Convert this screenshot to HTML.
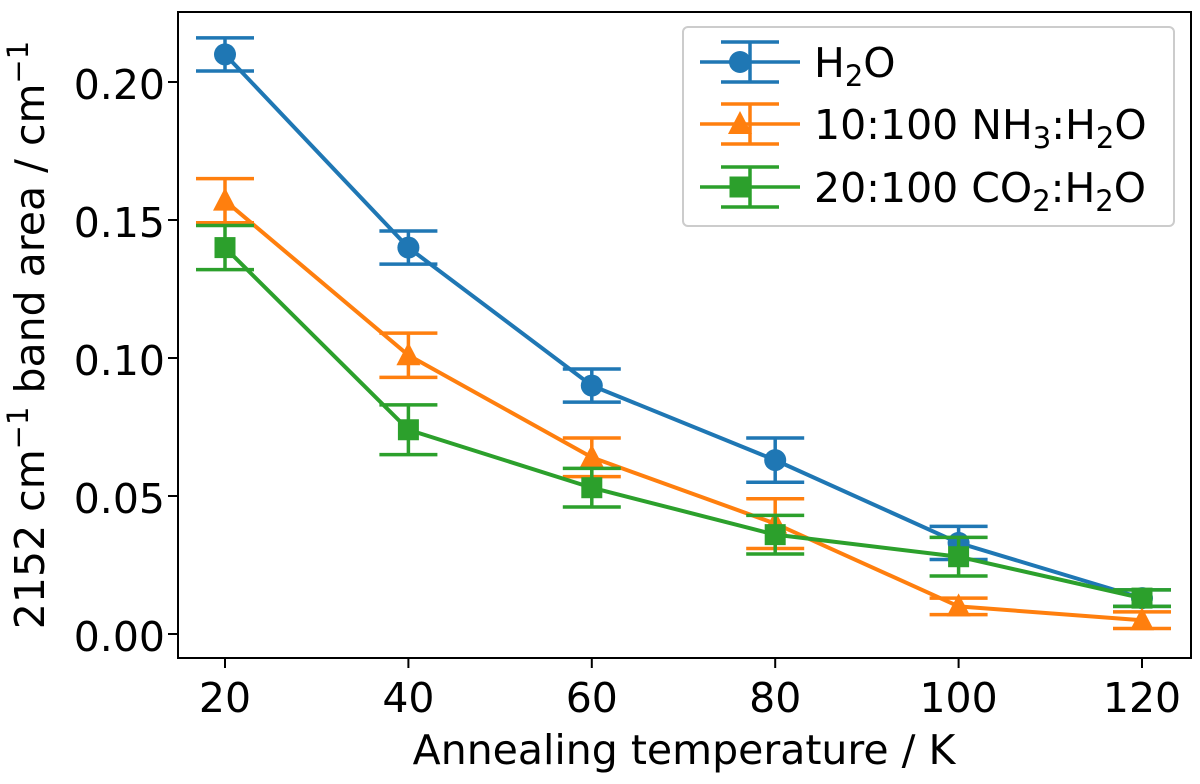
<!DOCTYPE html>
<html><head><meta charset="utf-8"><style>
body{margin:0;background:#fff}
svg text{font-family:"DejaVu Sans","Liberation Sans",sans-serif;fill:#000}
</style></head><body>
<svg id="chart" width="1200" height="779" xmlns="http://www.w3.org/2000/svg">
<g id="marks"></g>
<g id="axes"></g>
</svg>
<script>
const temps=[20,40,60,80,100,120];
const h2o=[0.210,0.140,0.090,0.063,0.033,0.013];
const h2oErr=[0.006,0.006,0.006,0.008,0.006,0.003];
const nh3=[0.157,0.101,0.064,0.040,0.010,0.005];
const nh3Err=[0.008,0.008,0.007,0.009,0.003,0.003];
const co2=[0.140,0.074,0.053,0.036,0.028,0.013];
const co2Err=[0.008,0.009,0.007,0.007,0.007,0.003];
const xTicks=[20,40,60,80,100,120];
const yTicks=[0,0.05,0.10,0.15,0.20];
const yTickLabels=["0.00","0.05","0.10","0.15","0.20"];

const L=178,R=1191,T=12,B=658;
const xs=v=>225+(v-20)*(1142-225)/100;
const ys=v=>634-v*(634-82)/0.2;
const NS="http://www.w3.org/2000/svg";
const marks=document.getElementById('marks'), axes=document.getElementById('axes');
function mk(tag,attrs,parent){const e=document.createElementNS(NS,tag);for(const k in attrs)e.setAttribute(k,attrs[k]);parent.appendChild(e);return e;}

const series=[
 {name:'h2o',vals:h2o,err:h2oErr,color:'#1f77b4',marker:'circle'},
 {name:'nh3',vals:nh3,err:nh3Err,color:'#ff7f0e',marker:'triangle'},
 {name:'co2',vals:co2,err:co2Err,color:'#2ca02c',marker:'square'}
];
function marker(type,cx,cy,color,parent){
 let e;
 if(type==='circle')e=mk('circle',{cx:cx,cy:cy,r:11,fill:color},parent);
 else if(type==='triangle')e=mk('polygon',{points:`${cx},${cy-13} ${cx+12},${cy+10} ${cx-12},${cy+10}`,fill:color},parent);
 else e=mk('rect',{x:cx-10.5,y:cy-10.5,width:21,height:21,fill:color},parent);
 return e;
}
series.forEach(s=>{
 const g=mk('g',{},marks);
 
 
 s.vals.forEach((v,i)=>{
  const x=xs(temps[i]),y1=ys(v-s.err[i]),y2=ys(v+s.err[i]);
  const eb=mk('path',{d:`M${x},${y1}V${y2}M${x-29},${y1}H${x+29}M${x-29},${y2}H${x+29}`,stroke:s.color,'stroke-width':3.5,fill:'none'},g);
  
  
 });
 const pl=mk('polyline',{points:s.vals.map((v,i)=>xs(temps[i])+','+ys(v)).join(' '),stroke:s.color,'stroke-width':4,fill:'none'},g);
 
 
 s.vals.forEach((v,i)=>{
  const m=marker(s.marker,xs(temps[i]),ys(v),s.color,g);
  
  
 });
});
const frame=mk('rect',{x:L,y:T,width:R-L,height:B-T,fill:'none',stroke:'#000','stroke-width':2},axes);


xTicks.forEach(t=>{
 const x=xs(t);
 mk('line',{x1:x,x2:x,y1:B,y2:B+10,stroke:'#000','stroke-width':2},axes);
 const tx=mk('text',{x:x,y:B+54,'text-anchor':'middle','font-size':41},axes);tx.textContent=t;
 
 
});
yTicks.forEach((t,i)=>{
 const y=ys(t);
 mk('line',{x1:L-10,x2:L,y1:y,y2:y,stroke:'#000','stroke-width':2},axes);
 const tx=mk('text',{x:L-13,y:y+17,'text-anchor':'end','font-size':41},axes);tx.textContent=yTickLabels[i];
 
 
});
</script>
<svg width="1200" height="779" style="position:absolute;left:0;top:0" xmlns="http://www.w3.org/2000/svg">
<text x="684" y="764" text-anchor="middle" font-size="41">Annealing temperature / K</text>
<text transform="translate(44,335) rotate(-90)" text-anchor="middle" font-size="41">2152 cm<tspan dy="-16" font-size="29">−1</tspan><tspan dy="16"> band area / cm</tspan><tspan dy="-16" font-size="29">−1</tspan></text>
<g>
<rect x="683" y="27" width="491" height="199" rx="5" fill="#fff" fill-opacity="0.85" stroke="#ccc" stroke-width="2"/>
<g stroke="#1f77b4" stroke-width="3.5" fill="none">
<path d="M700,62H800M750,42V82M721,42H779M721,82H779"/><circle cx="740" cy="62" r="11" fill="#1f77b4" stroke="none"/></g>
<text x="814" y="77" font-size="41">H<tspan dy="9" font-size="29">2</tspan><tspan dy="-9">O</tspan></text>
<g stroke="#ff7f0e" stroke-width="3.5" fill="none">
<path d="M700,124H800M750,104V144M721,104H779M721,144H779"/><polygon points="740,111 752,134 728,134" fill="#ff7f0e" stroke="none"/></g>
<text x="814" y="139" font-size="41">10:100 NH<tspan dy="9" font-size="29">3</tspan><tspan dy="-9">:H</tspan><tspan dy="9" font-size="29">2</tspan><tspan dy="-9">O</tspan></text>
<g stroke="#2ca02c" stroke-width="3.5" fill="none">
<path d="M700,187H800M750,167V207M721,167H779M721,207H779"/><rect x="729.5" y="176.5" width="21" height="21" fill="#2ca02c" stroke="none"/></g>
<text x="814" y="202" font-size="41">20:100 CO<tspan dy="9" font-size="29">2</tspan><tspan dy="-9">:H</tspan><tspan dy="9" font-size="29">2</tspan><tspan dy="-9">O</tspan></text>
</g>
</svg>
</body></html>
